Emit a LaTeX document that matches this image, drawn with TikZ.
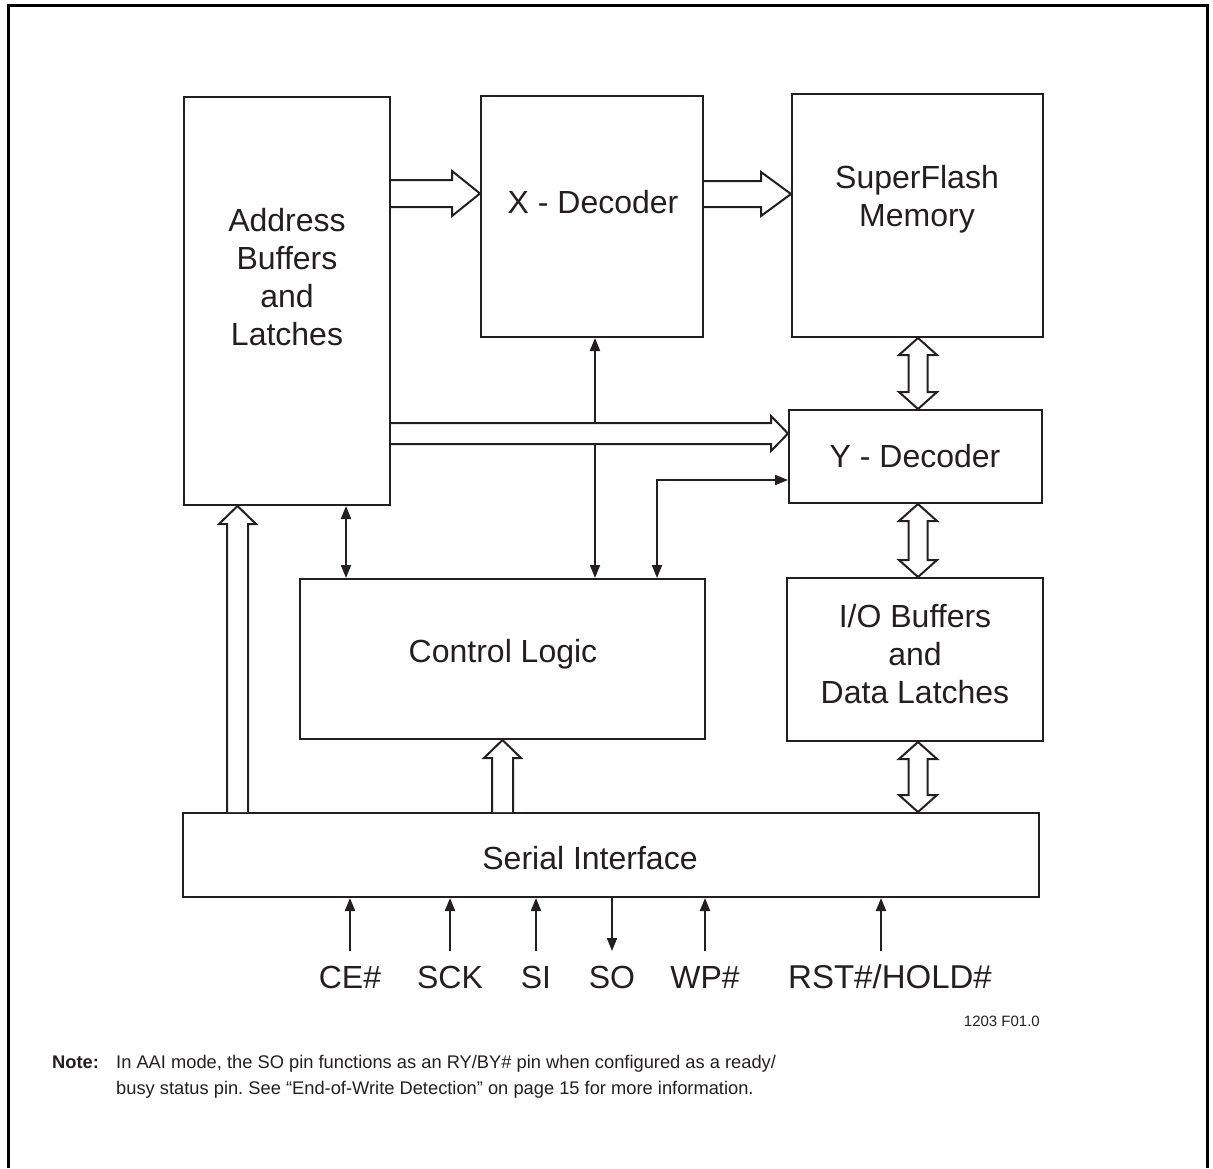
\documentclass[tikz,border=0pt]{standalone}
\usepackage{fontspec}
\setmainfont{Liberation Sans}
\usetikzlibrary{arrows.meta,calc}
\definecolor{ink}{HTML}{231F20}
\frenchspacing
\newcommand{\HollowRight}[5]{\draw[hollow] let \p1=(#1), \p2=(#2) in (\x1,\y2+#3) -- (\x2-#5,\y2+#3) -- (\x2-#5,\y2+#4) -- (\x2,\y2) -- (\x2-#5,\y2-#4) -- (\x2-#5,\y2-#3) -- (\x1,\y2-#3);}
\newcommand{\HollowUp}[5]{\draw[hollow] let \p1=(#1), \p2=(#2) in (\x2-#3,\y1) -- (\x2-#3,\y2-#5) -- (\x2-#4,\y2-#5) -- (\x2,\y2) -- (\x2+#4,\y2-#5) -- (\x2+#3,\y2-#5) -- (\x2+#3,\y1);}
\newcommand{\HollowUD}[5]{\draw[hollow] let \p1=(#1), \p2=(#2) in (\x1,\y1) -- (\x1+#4,\y1-#5) -- (\x1+#3,\y1-#5) -- (\x1+#3,\y2+#5) -- (\x1+#4,\y2+#5) -- (\x1,\y2) -- (\x1-#4,\y2+#5) -- (\x1-#3,\y2+#5) -- (\x1-#3,\y1-#5) -- (\x1-#4,\y1-#5) -- cycle;}
\begin{document}
\begin{tikzpicture}[x=1pt,y=-1pt,
  blk/.style={draw=ink,line width=2pt,inner sep=0pt,fill=white},
  txt/.style={font=\fontsize{32}{38}\selectfont,text=ink,inner sep=0pt,anchor=base},
  notetxt/.style={font=\fontsize{18.3}{24}\selectfont,text=ink,inner sep=0pt,anchor=base west},
  hollow/.style={draw=ink,fill=white,line width=2pt,line join=miter},
  conn/.style={draw=ink,line width=2pt},
  >={Triangle[length=13pt,width=10pt]}]
\useasboundingbox (0,0) rectangle (1213,1168);
% outer frame
\draw[line width=3pt] (8,1168) -- (8,5) -- (1207,5) -- (1207,1168);
% blocks
\node[blk,minimum width=206pt,minimum height=408pt] (addr) at (287,301) {};
\node[blk,minimum width=222pt,minimum height=241pt] (xdec) at (592,216.5) {};
\node[blk,minimum width=251pt,minimum height=243pt] (sfm) at (917.5,215.5) {};
\node[blk,minimum width=253pt,minimum height=93pt] (ydec) at (915.5,456.5) {};
\node[blk,minimum width=405pt,minimum height=160pt] (ctrl) at (502.5,659) {};
\node[blk,minimum width=256pt,minimum height=163pt] (io) at (915,659.5) {};
\node[blk,minimum width=856pt,minimum height=84pt] (ser) at (611,855) {};
% labels
\node[txt] (addrL1) at (287,231) {Address};
\node[txt] (addrL2) at (287,269) {Buffers};
\node[txt] (addrL3) at (287,307) {and};
\node[txt] (addrL4) at (287,345) {Latches};
\node[txt] (xdecL) at (593,213) {X - Decoder};
\node[txt] (sfmL1) at (917,188) {SuperFlash};
\node[txt] (sfmL2) at (917,226) {Memory};
\node[txt] (ydecL) at (915,467) {Y - Decoder};
\node[txt] (ctrlL) at (503,662) {Control Logic};
\node[txt] (ioL1) at (915,627) {I/O Buffers};
\node[txt] (ioL2) at (915,665) {and};
\node[txt] (ioL3) at (915,703) {Data Latches};
\node[txt] (serL) at (590,869) {Serial Interface};
% thin connectors
\draw[conn,<->] (addr.south -| 346,0) -- (ctrl.north -| 346,0);
\draw[conn,<->] (xdec.south -| 595,0) -- (ctrl.north -| 595,0);
\coordinate (bend) at (657,480);
\draw[conn,<->] (ctrl.north -| bend) -- (bend) -- (ydec.west |- bend);
% hollow bus arrows
\coordinate (b1s) at (addr.east |- 0,193.5);
\coordinate (b1t) at (xdec.west |- 0,193.5);
\HollowRight{b1s}{b1t}{13.5pt}{22.5pt}{28pt}
\coordinate (b2s) at (xdec.east |- 0,194);
\coordinate (b2t) at (sfm.west |- 0,194);
\HollowRight{b2s}{b2t}{13pt}{22pt}{30pt}
\coordinate (b3s) at (addr.east |- 0,433.5);
\coordinate (b3t) at (ydec.west |- 0,433.5);
\HollowRight{b3s}{b3t}{10.5pt}{17.5pt}{17pt}
\coordinate (b4s) at (ser.north -| 237.5,0);
\coordinate (b4t) at (addr.south -| 237.5,0);
\HollowUp{b4s}{b4t}{10.5pt}{18.5pt}{18pt}
\coordinate (b5s) at (ser.north -| 502.5,0);
\coordinate (b5t) at (ctrl.south -| 502.5,0);
\HollowUp{b5s}{b5t}{10.5pt}{18.5pt}{18pt}
\coordinate (b6a) at (sfm.south -| 918,0);
\coordinate (b6b) at (ydec.north -| 918,0);
\HollowUD{b6a}{b6b}{9.5pt}{19pt}{17pt}
\coordinate (b7a) at (ydec.south -| 918,0);
\coordinate (b7b) at (io.north -| 918,0);
\HollowUD{b7a}{b7b}{9.5pt}{19pt}{17pt}
\coordinate (b8a) at (io.south -| 918,0);
\coordinate (b8b) at (ser.north -| 918,0);
\HollowUD{b8a}{b8b}{9.5pt}{19pt}{17pt}
% pins
\node[txt] (pCE) at (350,988) {CE\#};
\node[txt] (pSCK) at (450,988) {SCK};
\node[txt] (pSI) at (536,988) {SI};
\node[txt] (pSO) at (612,988) {SO};
\node[txt] (pWP) at (705,988) {WP\#};
\node[txt,font=\fontsize{33}{38}\selectfont] (pRST) at (890,988) {RST\#/HOLD\#};
\coordinate (cCE) at (350,951);
\coordinate (cSCK) at (450,951);
\coordinate (cSI) at (536,951);
\coordinate (cSO) at (612,951);
\coordinate (cWP) at (705,951);
\coordinate (cRST) at (881,951);
\draw[conn,->] (cCE) -- (ser.south -| cCE);
\draw[conn,->] (cSCK) -- (ser.south -| cSCK);
\draw[conn,->] (cSI) -- (ser.south -| cSI);
\draw[conn,->] (ser.south -| cSO) -- (cSO);
\draw[conn,->] (cWP) -- (ser.south -| cWP);
\draw[conn,->] (cRST) -- (ser.south -| cRST);
% figure id and note
\node[font=\fontsize{15}{18}\selectfont,text=ink,inner sep=0pt,anchor=base east] (figid) at (1040,1026) {1203 F01.0};
\node[notetxt,font=\fontsize{18.3}{24}\selectfont\bfseries] (noteH) at (52,1068) {Note:};
\node[notetxt] (note1) at (116,1068) {In AAI mode, the SO pin functions as an RY/BY\# pin when configured as a ready/};
\node[notetxt] (note2) at (116,1094) {busy status pin. See “End-of-Write Detection” on page 15 for more information.};
\end{tikzpicture}
\end{document}
